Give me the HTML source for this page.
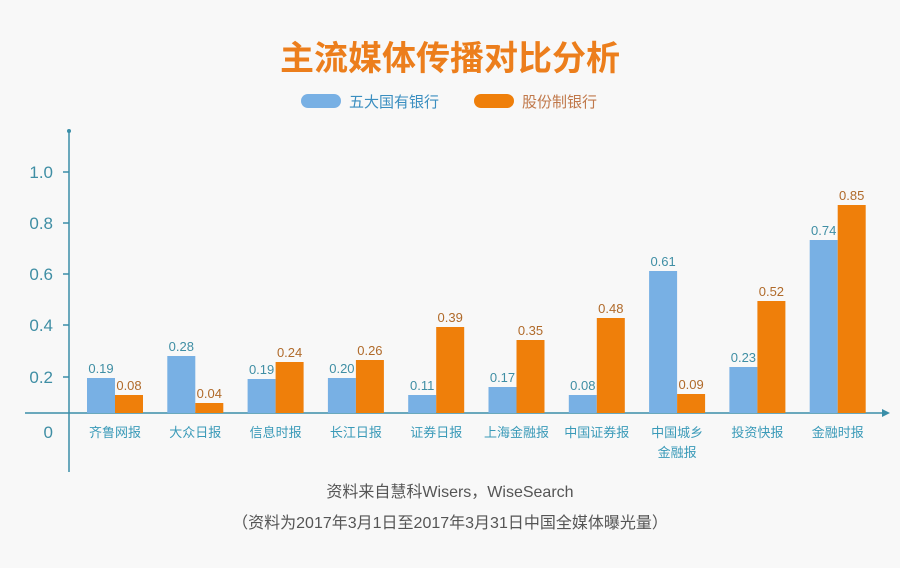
<!DOCTYPE html><html><head><meta charset="utf-8"><style>
body{margin:0;width:900px;height:563px;background:#f8f8f8;overflow:hidden;font-family:"Liberation Sans","Noto Sans CJK SC",sans-serif}
</style></head><body>
<svg width="900" height="563" xmlns="http://www.w3.org/2000/svg" font-family="Liberation Sans, Noto Sans CJK SC, sans-serif">
<rect width="900" height="563" fill="#f8f8f8"/>
<text x="450" y="70" text-anchor="middle" font-size="34" font-weight="bold" fill="#ec7e1c" font-family="Noto Sans CJK SC, sans-serif">主流媒体传播对比分析</text>
<rect x="301" y="94" width="40" height="14" rx="7" fill="#78b0e4"/>
<text x="349" y="107" font-size="15" fill="#3a8ec0">五大国有银行</text>
<rect x="474" y="94" width="40" height="14" rx="7" fill="#ef7f0a"/>
<text x="522" y="107" font-size="15" fill="#c0784a">股份制银行</text>
<line x1="69" y1="130" x2="69" y2="472" stroke="#3a8ea8" stroke-width="1.5"/>
<circle cx="69" cy="131" r="2" fill="#3a8ea8"/>
<line x1="25" y1="413" x2="888" y2="413" stroke="#3a8ea8" stroke-width="1.5"/>
<polygon points="890,413 882,409 882,417" fill="#3a8ea8"/>
<g font-size="17" fill="#3f8ea4" text-anchor="end">
<text x="53" y="178">1.0</text><text x="53" y="229">0.8</text><text x="53" y="280">0.6</text><text x="53" y="331">0.4</text><text x="53" y="383">0.2</text><text x="53" y="438">0</text>
</g>
<g stroke="#3a8ea8" stroke-width="1.5"><line x1="63" y1="172" x2="69" y2="172"/><line x1="63" y1="223" x2="69" y2="223"/><line x1="63" y1="274" x2="69" y2="274"/><line x1="63" y1="325" x2="69" y2="325"/><line x1="63" y1="377" x2="69" y2="377"/></g>
<g id="bars"></g>
<text x="450" y="497" text-anchor="middle" font-size="16" fill="#555">资料来自慧科Wisers，WiseSearch</text>
<text x="450" y="528" text-anchor="middle" font-size="16" fill="#555">（资料为2017年3月1日至2017年3月31日中国全媒体曝光量）</text>
</svg>
<script>
var d=[["齐鲁网报",.19,.08,378,395],["大众日报",.28,.04,356,403],["信息时报",.19,.24,379,362],["长江日报",.20,.26,378,360],["证券日报",.11,.39,395,327],["上海金融报",.17,.35,387,340],["中国证券报",.08,.48,395,318],["中国城乡|金融报",.61,.09,271,394],["投资快报",.23,.52,367,301],["金融时报",.74,.85,240,205]];
var g=document.getElementById("bars"),s="";
d.forEach(function(r,i){var x=87+i*80.3;
s+='<rect x="'+x+'" y="'+r[3]+'" width="28" height="'+(413-r[3])+'" fill="#78b0e4"/>';
s+='<rect x="'+(x+28)+'" y="'+r[4]+'" width="28" height="'+(413-r[4])+'" fill="#ef7f0a"/>';
s+='<text x="'+(x+14)+'" y="'+(r[3]-5)+'" text-anchor="middle" font-size="13" fill="#3f8ea4">'+r[1].toFixed(2)+'</text>';
s+='<text x="'+(x+42)+'" y="'+(r[4]-5)+'" text-anchor="middle" font-size="13" fill="#b06a2a">'+r[2].toFixed(2)+'</text>';
var n=r[0].split("|");n.forEach(function(t,j){s+='<text x="'+(x+28)+'" y="'+(437+j*20)+'" text-anchor="middle" font-size="13" fill="#3a9ab8">'+t+'</text>';});
});
g.innerHTML=s;
</script>
</body></html>
